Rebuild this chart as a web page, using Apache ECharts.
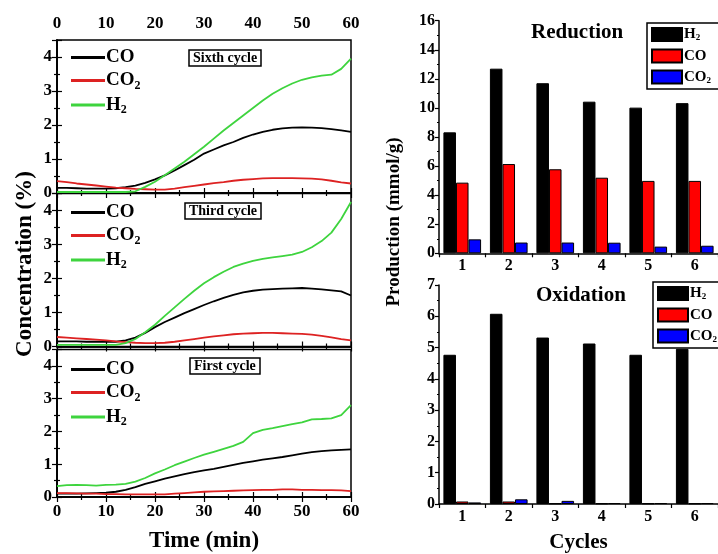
<!DOCTYPE html>
<html>
<head>
<meta charset="utf-8">
<script src="https://cdn.jsdelivr.net/npm/echarts@6/dist/echarts.min.js"></script>
<style>
  html, body { margin: 0; padding: 0; background: #fff; }
  #main { width: 718px; height: 554px; }
</style>
</head>
<body>
<div id="main"></div>
<script>
// 时间轴 (min)，每 2 分钟取一个点
var times = [0, 2, 4, 6, 8, 10, 12, 14, 16, 18, 20, 22, 24, 26, 28, 30, 32, 34, 36, 38, 40, 42, 44, 46, 48, 50, 52, 54, 56, 58, 60];

// Sixth cycle
var sixthCO = [0.15, 0.15, 0.14, 0.13, 0.13, 0.13, 0.14, 0.17, 0.22, 0.30, 0.40, 0.52, 0.66, 0.82, 0.98, 1.16, 1.28, 1.40, 1.50, 1.62, 1.72, 1.80, 1.86, 1.90, 1.92, 1.93, 1.92, 1.91, 1.88, 1.84, 1.80];
var sixthCO2 = [0.35, 0.32, 0.28, 0.25, 0.22, 0.19, 0.16, 0.14, 0.12, 0.11, 0.10, 0.10, 0.13, 0.17, 0.21, 0.25, 0.29, 0.32, 0.36, 0.39, 0.41, 0.43, 0.44, 0.44, 0.44, 0.43, 0.42, 0.40, 0.36, 0.31, 0.28];
var sixthH2 = [0.03, 0.03, 0.03, 0.03, 0.03, 0.03, 0.03, 0.03, 0.05, 0.18, 0.33, 0.52, 0.72, 0.92, 1.14, 1.36, 1.60, 1.84, 2.06, 2.28, 2.50, 2.72, 2.92, 3.08, 3.22, 3.33, 3.40, 3.45, 3.48, 3.65, 3.95];

// Third cycle
var thirdCO = [0.15, 0.15, 0.15, 0.14, 0.14, 0.14, 0.14, 0.18, 0.26, 0.40, 0.57, 0.72, 0.85, 0.98, 1.10, 1.22, 1.33, 1.43, 1.52, 1.59, 1.64, 1.67, 1.69, 1.70, 1.71, 1.72, 1.70, 1.68, 1.65, 1.62, 1.50];
var thirdCO2 = [0.28, 0.26, 0.24, 0.22, 0.20, 0.18, 0.15, 0.13, 0.11, 0.10, 0.10, 0.11, 0.14, 0.18, 0.22, 0.26, 0.30, 0.33, 0.36, 0.38, 0.39, 0.40, 0.40, 0.39, 0.38, 0.37, 0.35, 0.31, 0.27, 0.22, 0.18];
var thirdH2 = [0.05, 0.05, 0.05, 0.05, 0.05, 0.05, 0.05, 0.10, 0.22, 0.42, 0.64, 0.90, 1.15, 1.40, 1.64, 1.86, 2.04, 2.20, 2.34, 2.44, 2.52, 2.58, 2.62, 2.66, 2.70, 2.78, 2.92, 3.10, 3.35, 3.75, 4.25];

// First cycle
var firstCO = [0.10, 0.10, 0.10, 0.11, 0.12, 0.13, 0.16, 0.22, 0.30, 0.40, 0.48, 0.56, 0.63, 0.70, 0.76, 0.81, 0.86, 0.92, 0.98, 1.04, 1.09, 1.14, 1.18, 1.22, 1.27, 1.32, 1.37, 1.40, 1.42, 1.44, 1.45];
var firstCO2 = [0.12, 0.12, 0.11, 0.10, 0.10, 0.09, 0.09, 0.08, 0.08, 0.08, 0.08, 0.08, 0.10, 0.12, 0.14, 0.16, 0.17, 0.18, 0.19, 0.20, 0.21, 0.22, 0.22, 0.23, 0.23, 0.22, 0.22, 0.21, 0.21, 0.20, 0.18];
var firstH2 = [0.33, 0.36, 0.37, 0.36, 0.35, 0.37, 0.38, 0.40, 0.47, 0.58, 0.72, 0.84, 0.97, 1.08, 1.19, 1.29, 1.38, 1.47, 1.56, 1.68, 1.95, 2.05, 2.10, 2.16, 2.22, 2.28, 2.37, 2.38, 2.40, 2.50, 2.80];

// 柱状图
var cycles = ['1', '2', '3', '4', '5', '6'];
var redH2 = [8.32, 12.70, 11.70, 10.43, 10.02, 10.33];
var redCO = [4.86, 6.14, 5.78, 5.20, 4.98, 4.98];
var redCO2 = [0.96, 0.74, 0.74, 0.73, 0.46, 0.52];
var oxH2 = [4.77, 6.08, 5.32, 5.13, 4.77, 4.96];
var oxCO = [0.08, 0.08, 0.02, 0.02, 0.02, 0.02];
var oxCO2 = [0.05, 0.15, 0.10, 0.03, 0.03, 0.03];

var serif = '"Liberation Serif", "Times New Roman", serif';
var chart = echarts.init(document.getElementById('main'));

function pairs(vals) {
  return times.map(function (t, i) { return [t, vals[i]]; });
}

// 下标格式化
function subFmt(name) {
  var base = name.replace(' bar', '');
  if (base.charAt(base.length - 1) === '2') {
    return '{a|' + base.slice(0, -1) + '}{s|2}';
  }
  return '{a|' + base + '}';
}

var lineColors = { 'CO': '#000000', 'CO2': '#dd2222', 'H2': '#3ed43e' };
var leftGrids = [
  { top: 40, vals: [sixthCO, sixthCO2, sixthH2], note: 'Sixth cycle', noteLeft: 189, noteTop: 50, legTop: 43 },
  { top: 193.5, vals: [thirdCO, thirdCO2, thirdH2], note: 'Third cycle', noteLeft: 185, noteTop: 203, legTop: 198 },
  { top: 349.5, vals: [firstCO, firstCO2, firstH2], note: 'First cycle', noteLeft: 190, noteTop: 358, legTop: 355 }
];

var grids = [], xAxes = [], yAxes = [], series = [], legends = [], titles = [];

var tickStyle = { color: '#000', width: 1.2 };
var axLine = { show: true, lineStyle: { color: '#000', width: 1.5 } };

leftGrids.forEach(function (g, i) {
  grids.push({ left: 57, width: 294, top: g.top, height: 153, show: true, borderColor: '#000', borderWidth: 1.5 });
  // 下边与上边 x 轴
  ['bottom', 'top'].forEach(function (pos) {
    var showLab = (pos === 'top' && i === 0) || (pos === 'bottom' && i === 2);
    var ax = {
      type: 'value', gridIndex: i, position: pos, min: 0, max: 60, interval: 10,
      axisLine: axLine,
      axisTick: { inside: true, length: 5, lineStyle: tickStyle },
      minorTick: { show: true, splitNumber: 2, length: 3, lineStyle: tickStyle },
      splitLine: { show: false },
      axisLabel: { show: showLab, color: '#000', fontFamily: serif, fontWeight: 'bold', fontSize: 17, margin: pos === 'top' ? 8 : 6 }
    };
    if (i === 2 && pos === 'bottom') {
      ax.name = 'Time (min)';
      ax.nameLocation = 'middle';
      ax.nameGap = 33;
      ax.nameTextStyle = { color: '#000', fontFamily: serif, fontWeight: 'bold', fontSize: 23 };
    }
    xAxes.push(ax);
  });
  ['left', 'right'].forEach(function (pos) {
    yAxes.push({
      type: 'value', gridIndex: i, position: pos, min: 0, max: 4.5, interval: 1,
      axisLine: axLine,
      axisTick: { inside: true, length: 5, lineStyle: tickStyle },
      minorTick: { show: true, splitNumber: 2, length: 3, lineStyle: tickStyle },
      splitLine: { show: false },
      axisLabel: {
        show: pos === 'left', color: '#000', fontFamily: serif, fontWeight: 'bold', fontSize: 17, margin: 5,
        formatter: function (v) { return Number.isInteger(v) ? String(v) : ''; }
      }
    });
  });
  ['CO', 'CO2', 'H2'].forEach(function (nm, k) {
    series.push({
      name: nm, type: 'line', xAxisIndex: i * 2, yAxisIndex: i * 2,
      data: pairs(g.vals[k]), showSymbol: false, symbol: 'none',
      lineStyle: { color: lineColors[nm], width: 1.8 }, itemStyle: { color: lineColors[nm] },
      silent: true, animation: false
    });
  });
  legends.push({
    orient: 'vertical', left: 66, top: g.legTop, itemWidth: 34, itemHeight: 3, itemGap: 4, icon: 'rect',
    data: ['CO', 'CO2', 'H2'], selectedMode: false,
    formatter: subFmt,
    textStyle: {
      padding: [0, 0, 0, -4],
      rich: {
        a: { fontFamily: serif, fontWeight: 'bold', fontSize: 19, color: '#000', lineHeight: 22 },
        s: { fontFamily: serif, fontWeight: 'bold', fontSize: 12, color: '#000', verticalAlign: 'bottom', lineHeight: 16, padding: [6, 0, 0, 0] }
      }
    }
  });
  titles.push({
    text: g.note, left: g.noteLeft, top: g.noteTop, borderColor: '#000', borderWidth: 1.5, padding: [1, 4, 1, 4],
    textStyle: { fontFamily: serif, fontWeight: 'bold', fontSize: 14, color: '#000' }
  });
});

// 右侧柱状图 (左侧已占用 x/y 轴 0-5)
var barSets = [
  { top: 20.7, height: 232.6, max: 16, interval: 2, vals: [redH2, redCO, redCO2], title: 'Reduction', tLeft: 526, tTop: 17, legTop: 23, legLeft: 647, gap: 6 },
  { top: 285, height: 228.3, max: 7, interval: 1, vals: [oxH2, oxCO, oxCO2], title: 'Oxidation', tLeft: 531, tTop: 280, legTop: 282, legLeft: 653, gap: 6 }
];
var barColors = ['#000000', '#ff0000', '#0000ff'];
var barNames = ['H2 bar', 'CO bar', 'CO2 bar'];

barSets.forEach(function (b, j) {
  var gi = 3 + j;
  var ai = xAxes.length;
  grids.push({ left: 439, width: 279, top: b.top, height: b.height });
  var xa = {
    type: 'category', gridIndex: gi, data: cycles,
    axisLine: axLine,
    axisTick: { show: true, length: 4, lineStyle: tickStyle },
    axisLabel: { color: '#000', fontFamily: serif, fontWeight: 'bold', fontSize: 16, margin: 5 }
  };
  if (j === 1) {
    xa.name = 'Cycles';
    xa.nameLocation = 'middle';
    xa.nameGap = 28;
    xa.nameTextStyle = { color: '#000', fontFamily: serif, fontWeight: 'bold', fontSize: 21 };
  }
  xAxes.push(xa);
  yAxes.push({
    type: 'value', gridIndex: gi, min: 0, max: b.max, interval: b.interval,
    axisLine: axLine,
    axisTick: { show: true, length: 4, lineStyle: tickStyle },
    minorTick: { show: true, splitNumber: 2, length: 2, lineStyle: tickStyle },
    splitLine: { show: false },
    axisLabel: { color: '#000', fontFamily: serif, fontWeight: 'bold', fontSize: 16, margin: 4 }
  });
  barNames.forEach(function (nm, k) {
    series.push({
      name: nm, type: 'bar', xAxisIndex: ai, yAxisIndex: ai, data: b.vals[k],
      barGap: '0%', barCategoryGap: '19%',
      itemStyle: { color: barColors[k], borderColor: '#000', borderWidth: 1 },
      silent: true, animation: false
    });
  });
  legends.push({
    orient: 'vertical', left: b.legLeft, top: b.legTop, itemWidth: 30, itemHeight: 13, itemGap: b.gap, icon: 'rect',
    data: barNames, selectedMode: false, borderColor: '#000', borderWidth: 1.5, padding: [4, 10, 4, 4],
    formatter: subFmt,
    textStyle: {
      padding: [0, 0, 0, -3],
      rich: {
        a: { fontFamily: serif, fontWeight: 'bold', fontSize: 15, color: '#000', lineHeight: 16 },
        s: { fontFamily: serif, fontWeight: 'bold', fontSize: 9, color: '#000', verticalAlign: 'bottom', lineHeight: 12, padding: [5, 0, 0, 0] }
      }
    }
  });
  titles.push({
    text: b.title, left: b.tLeft, top: b.tTop,
    textStyle: { fontFamily: serif, fontWeight: 'bold', fontSize: 21, color: '#000' }
  });
});

var option = {
  backgroundColor: '#fff',
  animation: false,
  title: titles,
  legend: legends,
  grid: grids,
  xAxis: xAxes,
  yAxis: yAxes,
  series: series,
  graphic: [
    { type: 'text', x: 25, y: 264, rotation: Math.PI / 2,
      style: { text: 'Concentration (%)', font: 'bold 23px "Liberation Serif"', fill: '#000', textAlign: 'center', textVerticalAlign: 'middle' } },
    { type: 'text', x: 394, y: 222, rotation: Math.PI / 2,
      style: { text: 'Production (mmol/g)', font: 'bold 19px "Liberation Serif"', fill: '#000', textAlign: 'center', textVerticalAlign: 'middle' } }
  ]
};
chart.setOption(option);
</script>
</body>
</html>
